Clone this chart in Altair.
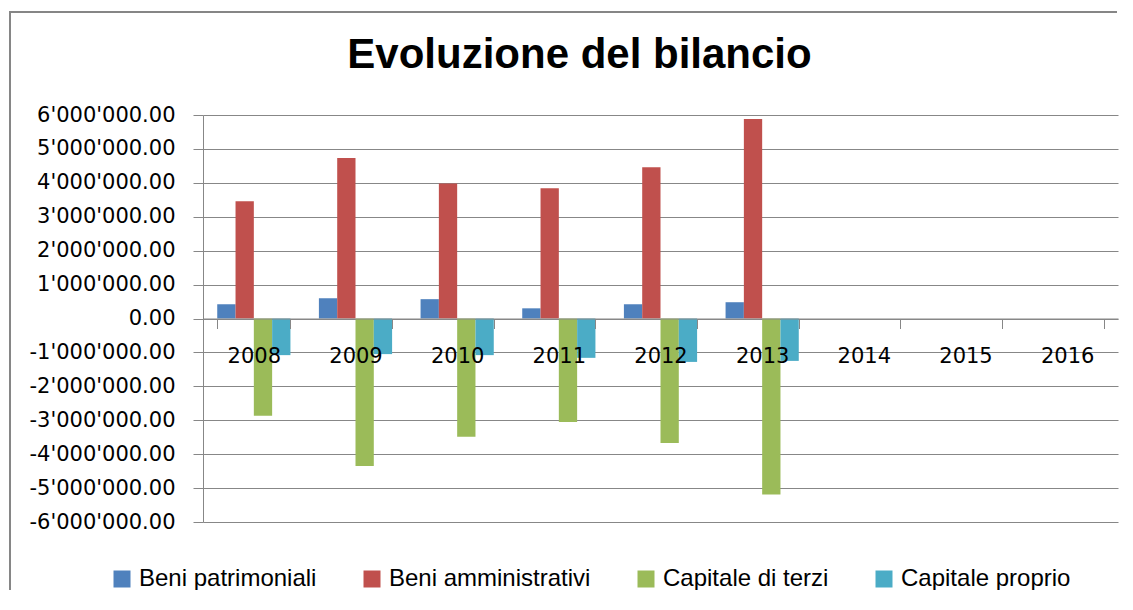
import altair as alt
import pandas as pd

years = ["2008", "2009", "2010", "2011", "2012", "2013", "2014", "2015", "2016"]
data_years = ["2008", "2009", "2010", "2011", "2012", "2013"]
series = ["Beni patrimoniali", "Beni amministrativi", "Capitale di terzi", "Capitale proprio"]
colors = ["#4F81BD", "#C0504D", "#9BBB59", "#4BACC6"]

beni_patrimoniali = [420000, 600000, 570000, 300000, 420000, 480000]
beni_amministrativi = [3460000, 4730000, 3980000, 3840000, 4460000, 5880000]
capitale_di_terzi = [-2870000, -4350000, -3490000, -3050000, -3670000, -5190000]
capitale_proprio = [-1080000, -1050000, -1080000, -1160000, -1280000, -1250000]

y_ticks = [-6000000, -5000000, -4000000, -3000000, -2000000, -1000000, 0,
           1000000, 2000000, 3000000, 4000000, 5000000, 6000000]

rows = []
for name, vals in zip(series, [beni_patrimoniali, beni_amministrativi, capitale_di_terzi, capitale_proprio]):
    for yr, v in zip(data_years, vals):
        rows.append({"anno": yr, "voce": name, "valore": v})
df = pd.DataFrame(rows)

GRID = "#878787"
PW, PH = 915, 407

bars = alt.Chart(df).mark_bar().encode(
    x=alt.X(
        "anno:N",
        scale=alt.Scale(domain=years, paddingInner=0.28, paddingOuter=0.14),
        axis=alt.Axis(
            title=None, orient="bottom", offset=-PH / 2, labelAngle=0,
            domainColor=GRID, domainWidth=1, tickColor=GRID, tickSize=10, tickBand="extent",
            labelFont="DejaVu Sans", labelFontSize=21, labelColor="black", labelPadding=17,
            grid=False, zindex=1,
        ),
    ),
    xOffset=alt.XOffset("voce:N", scale=alt.Scale(domain=series, paddingInner=0, paddingOuter=0)),
    y=alt.Y(
        "valore:Q",
        scale=alt.Scale(domain=[-6000000, 6000000], nice=False, zero=False),
        axis=alt.Axis(
            title=None, values=y_ticks, format=",.2f", grid=True, gridColor=GRID, gridWidth=1,
            domainColor=GRID, tickColor=GRID, tickSize=10, labelPadding=18,
            labelFont="DejaVu Sans", labelFontSize=21, labelColor="black", zindex=0,
        ),
    ),
    color=alt.Color(
        "voce:N",
        scale=alt.Scale(domain=series, range=colors),
        legend=alt.Legend(
            title=None, orient="none", direction="horizontal", legendX=-93, legendY=452,
            symbolType="square", symbolSize=289, symbolStrokeWidth=0, symbolOpacity=1,
            labelFont="Liberation Sans", labelFontSize=24, labelColor="black", labelOffset=5,
            labelLimit=400, columnPadding=43, padding=0,
        ),
    ),
)

one = pd.DataFrame({"f": [0]})
frame_top = alt.Chart(one).mark_rule(color="#868686", strokeWidth=2).encode(
    x=alt.value(-194), x2=alt.value(914), y=alt.value(-103)
)
frame_left = alt.Chart(one).mark_rule(color="#868686", strokeWidth=2).encode(
    x=alt.value(-193), y=alt.value(-104), y2=alt.value(490)
)

chart = alt.layer(bars, frame_top, frame_left).properties(
    width=PW,
    height=PH,
    autosize=alt.AutoSizeParams(type="none"),
    padding={"left": 195, "top": 107, "right": 4, "bottom": 68},
    title=alt.TitleParams(
        "Evoluzione del bilancio", font="Liberation Sans", fontSize=42, fontWeight="bold",
        color="black", anchor="middle", frame="group", dx=-81, offset=-100, baseline="alphabetic",
    ),
).configure(
    locale={"number": {"decimal": ".", "thousands": "'", "grouping": [3],
                       "currency": ["", ""], "minus": "-"}}
).configure_view(stroke=None)

chart.save("out.html", embed_options={"renderer": "svg", "actions": False})
